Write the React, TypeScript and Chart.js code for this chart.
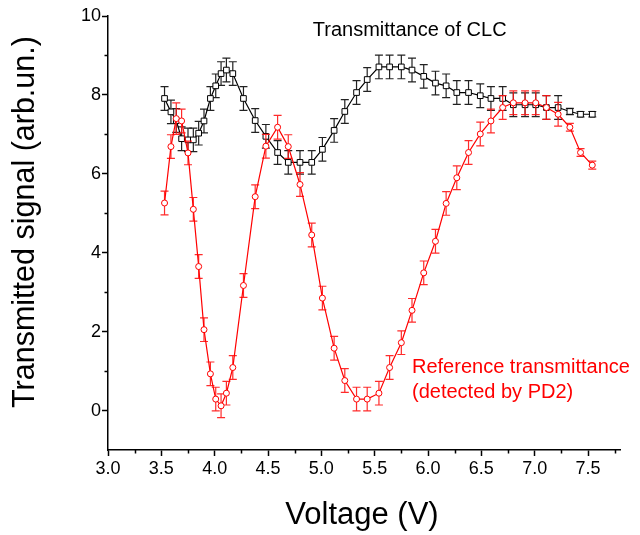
import React, { useEffect, useRef } from "react";
import { Chart, registerables } from "chart.js";

Chart.register(...registerables);

// Voltage (V)
const voltage = [
  3.53, 3.59, 3.64, 3.69, 3.75, 3.80, 3.85, 3.90, 3.96, 4.01,
  4.06, 4.11, 4.17, 4.27, 4.38, 4.48, 4.59, 4.69, 4.80, 4.91,
  5.01, 5.12, 5.22, 5.33, 5.43, 5.54, 5.64, 5.75, 5.85, 5.96,
  6.07, 6.17, 6.27, 6.38, 6.49, 6.59, 6.70, 6.80, 6.91, 7.01,
  7.11, 7.22, 7.33, 7.43, 7.54,
];

// Transmittance of CLC (black squares)
const clcSignal = [
  7.91, 7.57, 7.35, 6.89, 6.86, 6.86, 7.03, 7.34, 7.91, 8.23,
  8.54, 8.63, 8.54, 7.91, 7.35, 6.95, 6.54, 6.29, 6.29, 6.29,
  6.62, 7.10, 7.58, 8.06, 8.39, 8.71, 8.71, 8.71, 8.63, 8.47,
  8.30, 8.23, 8.06, 8.06, 7.98, 7.91, 7.91, 7.75, 7.75, 7.75,
  7.68, 7.68, 7.58, 7.51, 7.51,
];
const clcError = [
  0.3, 0.3, 0.3, 0.3, 0.3, 0.3, 0.3, 0.3, 0.3, 0.3,
  0.3, 0.3, 0.3, 0.3, 0.3, 0.3, 0.3, 0.3, 0.3, 0.3,
  0.3, 0.3, 0.3, 0.3, 0.3, 0.3, 0.3, 0.3, 0.3, 0.3,
  0.3, 0.3, 0.3, 0.3, 0.3, 0.3, 0.3, 0.3, 0.3, 0.3,
  0.3, 0.3, 0.08, 0.07, 0.07,
];

// Reference transmittance (red circles)
const refSignal = [
  5.26, 6.69, 7.40, 7.34, 6.53, 5.10, 3.65, 2.05, 0.93, 0.29,
  0.12, 0.44, 1.09, 3.17, 5.42, 6.70, 7.18, 6.69, 5.73, 4.45,
  2.85, 1.58, 0.76, 0.29, 0.29, 0.44, 1.09, 1.72, 2.54, 3.49,
  4.29, 5.25, 5.90, 6.54, 7.01, 7.34, 7.68, 7.80, 7.80, 7.80,
  7.68, 7.51, 7.18, 6.54, 6.22,
];
const refError = [
  0.3, 0.3, 0.4, 0.3, 0.3, 0.3, 0.3, 0.3, 0.3, 0.3,
  0.3, 0.3, 0.3, 0.3, 0.3, 0.3, 0.3, 0.3, 0.3, 0.3,
  0.3, 0.3, 0.3, 0.3, 0.3, 0.3, 0.3, 0.3, 0.3, 0.3,
  0.3, 0.3, 0.3, 0.3, 0.3, 0.3, 0.3, 0.3, 0.3, 0.3,
  0.3, 0.3, 0.1, 0.1, 0.1,
];

const xTickLabels = ["3.0", "3.5", "4.0", "4.5", "5.0", "5.5", "6.0", "6.5", "7.0", "7.5"];
const yTickLabels = ["0", "2", "4", "6", "8", "10"];
const xMinorTicks = [3.25, 3.75, 4.25, 4.75, 5.25, 5.75, 6.25, 6.75, 7.25, 7.75];
const yMinorTicks = [1, 3, 5, 7, 9];

const FONT = "'Liberation Sans', Arial, Helvetica, sans-serif";

export default function App() {
  const canvasRef = useRef<HTMLCanvasElement>(null);

  useEffect(() => {
    const canvas = canvasRef.current;
    if (!canvas) return;

    const errorBars = {
      id: "errorBars",
      beforeDatasetDraw(chart: any, args: any) {
        const ds = chart.data.datasets[args.index];
        const errs: number[] = ds.errors;
        if (!errs) return;
        const ctx = chart.ctx;
        const xs = chart.scales.x;
        const ys = chart.scales.y;
        ctx.save();
        ctx.strokeStyle = ds.errorColor;
        ctx.lineWidth = 1.2;
        const cap = 4;
        ds.data.forEach((p: any, i: number) => {
          const px = xs.getPixelForValue(p.x);
          const top = ys.getPixelForValue(p.y + errs[i]);
          const bot = ys.getPixelForValue(p.y - errs[i]);
          ctx.beginPath();
          ctx.moveTo(px, top);
          ctx.lineTo(px, bot);
          ctx.moveTo(px - cap, top);
          ctx.lineTo(px + cap, top);
          ctx.moveTo(px - cap, bot);
          ctx.lineTo(px + cap, bot);
          ctx.stroke();
        });
        ctx.restore();
      },
    };

    const decorations = {
      id: "decorations",
      afterDraw(chart: any) {
        const ctx = chart.ctx;
        const xs = chart.scales.x;
        const ys = chart.scales.y;
        const area = chart.chartArea;
        ctx.save();
        // minor ticks
        ctx.strokeStyle = "#000";
        ctx.lineWidth = 1.5;
        ctx.beginPath();
        xMinorTicks.forEach((v) => {
          const px = Math.round(xs.getPixelForValue(v)) + 0.5;
          ctx.moveTo(px, area.bottom);
          ctx.lineTo(px, area.bottom + 3.5);
        });
        yMinorTicks.forEach((v) => {
          const py = Math.round(ys.getPixelForValue(v)) + 0.5;
          ctx.moveTo(area.left, py);
          ctx.lineTo(area.left - 3.5, py);
        });
        ctx.stroke();

        // annotations
        ctx.textAlign = "left";
        ctx.textBaseline = "middle";
        ctx.font = `20px ${FONT}`;
        ctx.fillStyle = "#000";
        ctx.fillText("Transmittance of CLC", xs.getPixelForValue(4.92), ys.getPixelForValue(9.63));
        ctx.fillStyle = "#ff0000";
        ctx.fillText("Reference transmittance", xs.getPixelForValue(5.85), ys.getPixelForValue(1.08));
        ctx.fillText("(detected by PD2)", xs.getPixelForValue(5.85), ys.getPixelForValue(0.47));

        // axis titles
        ctx.fillStyle = "#000";
        ctx.font = `31px ${FONT}`;
        ctx.textAlign = "center";
        ctx.textBaseline = "alphabetic";
        ctx.fillText("Voltage (V)", (area.left + area.right) / 2 - 2, 524);
        ctx.font = `30.5px ${FONT}`;
        ctx.translate(34, 222);
        ctx.rotate(-Math.PI / 2);
        ctx.fillText("Transmitted signal (arb.un.)", 0, 0);
        ctx.restore();
      },
    };

    const chart = new Chart(canvas, {
      type: "line",
      data: {
        datasets: [
          {
            label: "Reference transmittance (detected by PD2)",
            data: refSignal.map((y, i) => ({ x: voltage[i], y })),
            borderColor: "#ff0000",
            borderWidth: 1.2,
            pointStyle: "circle",
            pointRadius: 3,
            pointBorderWidth: 1,
            pointBackgroundColor: "#ffffff",
            pointBorderColor: "#ff0000",
            tension: 0,
            fill: false,
            errors: refError,
            errorColor: "rgba(255,20,20,0.9)",
          } as any,
          {
            label: "Transmittance of CLC",
            data: clcSignal.map((y, i) => ({ x: voltage[i], y })),
            borderColor: "#000000",
            borderWidth: 1.2,
            pointStyle: "rect",
            pointRadius: 4,
            pointBorderWidth: 1,
            pointBackgroundColor: "#ffffff",
            pointBorderColor: "#000000",
            tension: 0,
            fill: false,
            errors: clcError,
            errorColor: "#222222",
          } as any,
        ],
      },
      options: {
        animation: false,
        responsive: false,
        maintainAspectRatio: false,
        layout: { padding: { top: 16, right: 20, left: 0, bottom: 0 } },
        plugins: {
          legend: { display: false },
          tooltip: { enabled: false },
          title: { display: false },
        },
        scales: {
          x: {
            type: "linear",
            min: 3,
            max: 7.8,
            afterFit: (scale: any) => {
              scale.height = 85;
            },
            border: { display: true, color: "#000", width: 1.5 },
            grid: {
              display: true,
              drawOnChartArea: false,
              drawTicks: true,
              tickLength: 6,
              tickWidth: 1.5,
              tickColor: "#000",
            },
            ticks: {
              stepSize: 0.5,
              includeBounds: false,
              autoSkip: false,
              maxRotation: 0,
              padding: 2,
              color: "#000",
              font: { family: FONT, size: 18 },
              callback: (value: any) => {
                const l = xTickLabels.find((t) => Math.abs(parseFloat(t) - Number(value)) < 1e-6);
                return l ?? "";
              },
            },
          },
          y: {
            type: "linear",
            min: -1,
            max: 10,
            afterFit: (scale: any) => {
              scale.width = 108;
            },
            border: { display: true, color: "#000", width: 1.5 },
            grid: {
              display: true,
              drawOnChartArea: false,
              drawTicks: true,
              tickLength: 6,
              tickWidth: 1.5,
              tickColor: (ctx: any) => {
                const v = ctx.tick ? ctx.tick.value : NaN;
                return yTickLabels.includes(String(v)) ? "#000" : "rgba(0,0,0,0)";
              },
            },
            ticks: {
              stepSize: 1,
              includeBounds: false,
              autoSkip: false,
              padding: 1,
              color: "#000",
              font: { family: FONT, size: 18 },
              callback: (value: any) => {
                const s = String(value);
                return yTickLabels.includes(s) ? s : "";
              },
            },
          },
        },
      },
      plugins: [errorBars, decorations],
    } as any);

    return () => {
      chart.destroy();
    };
  }, []);

  return (
    <div style={{ position: "fixed", left: 0, top: 0, width: 640, height: 535, background: "#fff" }}>
      <canvas ref={canvasRef} width={640} height={535} style={{ display: "block" }} />
    </div>
  );
}
